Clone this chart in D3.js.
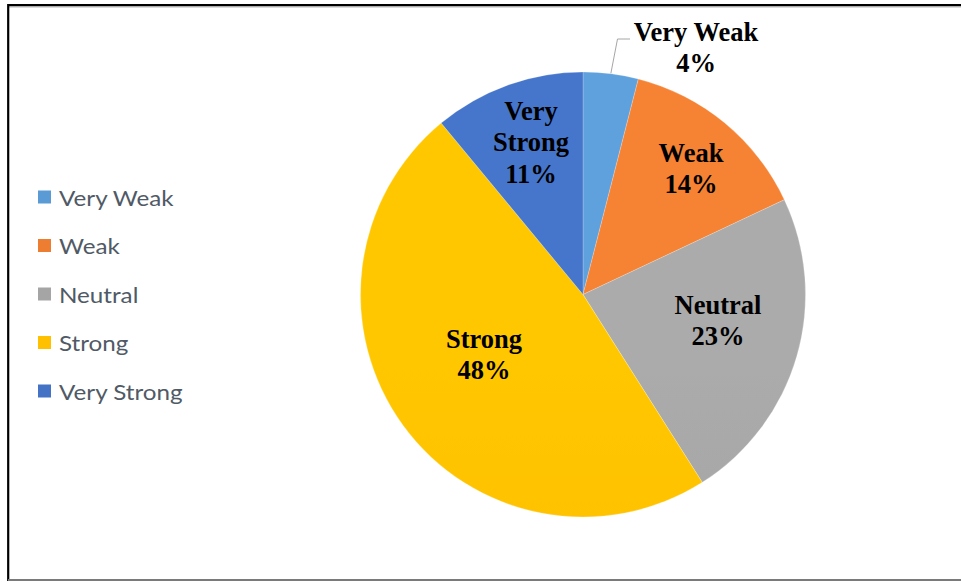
<!DOCTYPE html>
<html>
<head>
<meta charset="utf-8">
<script src="https://cdn.jsdelivr.net/npm/d3@7"></script>
<style>
  html, body { margin: 0; padding: 0; background: #fff; }
  svg { display: block; }
</style>
</head>
<body>
<svg id="chart" width="961" height="582"></svg>
<script>
// Rating categories, share of responses (%) and slice colours
const categories = ["Very Weak", "Weak", "Neutral", "Strong", "Very Strong"];
const shares = [4, 14, 23, 48, 11];
const colors = ["#5B9BD5", "#ED7D31", "#A5A5A5", "#FFC000", "#4472C4"];
// Data label lines drawn on each slice
const labelLines = [["Very Weak", "4%"], ["Weak", "14%"], ["Neutral", "23%"], ["Strong", "48%"], ["Very", "Strong", "11%"]];

const W = 961, H = 582;
const cx = 583, cy = 294.5, R = 222.5;

const svg = d3.select("#chart");

// Frame around the chart area
svg.append("line").attr("x1", 8).attr("x2", W).attr("y1", 5).attr("y2", 5)
  .attr("stroke", "#000").attr("stroke-width", 2.2);
svg.append("line").attr("x1", 8).attr("x2", W).attr("y1", 6.8).attr("y2", 6.8)
  .attr("stroke", "#888").attr("stroke-width", 1);
svg.append("line").attr("x1", 8.2).attr("x2", 8.2).attr("y1", 4).attr("y2", 581)
  .attr("stroke", "#000").attr("stroke-width", 2.2);
svg.append("line").attr("x1", 8).attr("x2", W).attr("y1", 580).attr("y2", 580)
  .attr("stroke", "#7a7a7a").attr("stroke-width", 2);

// Vertical shading for each slice colour
const defs = svg.append("defs");
colors.forEach((c, i) => {
  const g = defs.append("linearGradient")
    .attr("id", "grad" + i)
    .attr("gradientUnits", "userSpaceOnUse")
    .attr("x1", 0).attr("x2", 0)
    .attr("y1", cy - R).attr("y2", cy + R);
  g.append("stop").attr("offset", "0%").attr("stop-color", d3.color(c).brighter(0.1).formatHex());
  g.append("stop").attr("offset", "50%").attr("stop-color", c);
  g.append("stop").attr("offset", "100%").attr("stop-color", d3.color(c).darker(0.16).formatHex());
});

const pie = d3.pie().sort(null).value(d => d)(shares);
const arc = d3.arc().innerRadius(0).outerRadius(R);

const gPie = svg.append("g").attr("transform", `translate(${cx},${cy})`);
gPie.selectAll("path.slice")
  .data(pie)
  .join("path")
  .attr("class", "slice")
  .attr("d", arc)
  .attr("fill", (d, i) => `url(#grad${i})`)
  .attr("stroke", "#fff")
  .attr("stroke-opacity", 0.35)
  .attr("stroke-width", 0.6);

// First-line anchor of each data label, relative to the pie centre
const labelPos = [[113, -263], [108, -142], [135, 10], [-99, 44], [-52, -184]];
const lineH = 31.5;
const fontSize = 26.5;

// Leader line for the small "Very Weak" slice
const vw = pie[0];
const vwMid = (vw.startAngle + vw.endAngle) / 2;
const edge = [Math.sin(vwMid) * R, -Math.cos(vwMid) * R];
gPie.append("polyline")
  .attr("points", [[edge[0], edge[1] - 0.5], [34.5, -255.5], [47, -255.5]].map(p => p.join(",")).join(" "))
  .attr("fill", "none")
  .attr("stroke", "#A6A6A6")
  .attr("stroke-width", 1);

labelLines.forEach((lines, i) => {
  const [lx, ly] = labelPos[i];
  const t = gPie.append("text")
    .attr("x", lx)
    .attr("y", ly)
    .attr("text-anchor", "middle")
    .attr("dominant-baseline", "central")
    .attr("font-family", "'Liberation Serif', 'Times New Roman', serif")
    .attr("font-weight", "bold")
    .attr("font-size", fontSize)
    .attr("fill", "#000");
  lines.forEach((s, j) => {
    t.append("tspan").attr("x", lx).attr("dy", j === 0 ? 0 : lineH).text(s);
  });
});

// Legend
const legend = svg.append("g");
const legY = d3.scalePoint().domain(categories).range([197, 391]);
categories.forEach((c, i) => {
  const y = legY(c);
  legend.append("rect")
    .attr("x", 38).attr("y", y - 6.5)
    .attr("width", 13).attr("height", 13)
    .attr("fill", colors[i]);
  legend.append("text")
    .attr("transform", `translate(59,${y}) scale(1.1,1)`)
    .attr("dominant-baseline", "central")
    .attr("font-family", "Lato, 'Open Sans', sans-serif")
    .attr("font-size", 22)
    .attr("fill", "#505a66")
    .text(c);
});
</script>
</body>
</html>
